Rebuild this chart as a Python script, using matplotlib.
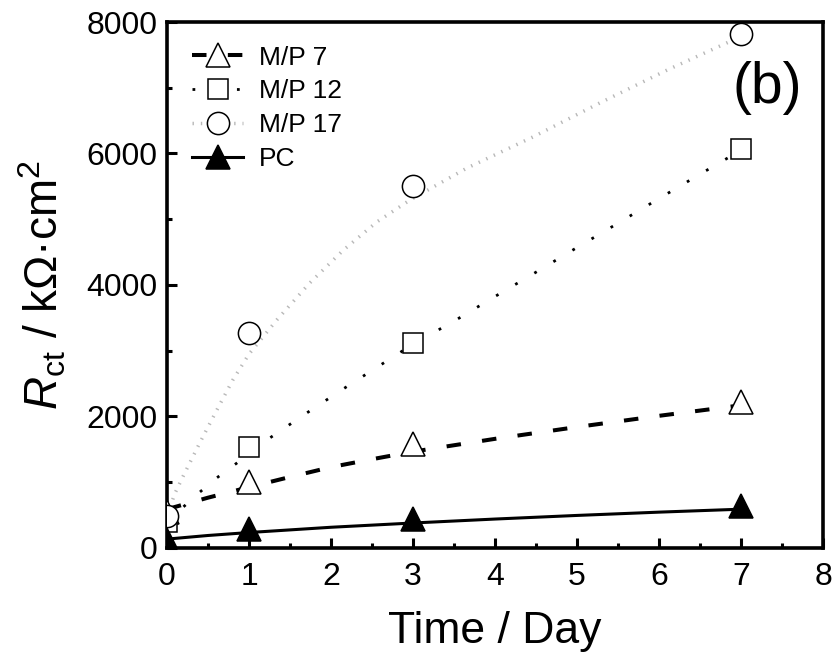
import matplotlib
matplotlib.use("Agg")
import matplotlib.pyplot as plt
from matplotlib.ticker import MultipleLocator

plt.rcParams['font.family'] = ['Liberation Sans', 'DejaVu Sans']
plt.rcParams['mathtext.fontset'] = 'custom'
plt.rcParams['mathtext.rm'] = 'Liberation Sans'
plt.rcParams['mathtext.it'] = 'Liberation Sans:italic'

# === Datos medidos (Rct, kOhm cm2) ===
dias = [0, 1, 3, 7]
mp7 = [550, 1000, 1580, 2220]
mp12 = [400, 1540, 3125, 6070]
mp17 = [490, 3270, 5505, 7815]
pc = [120, 290, 440, 635]

# === Curvas de ajuste ===
x_fit7 = [0, 0.5, 1, 1.5, 2, 2.5, 3, 4, 5, 6, 7]
y_fit7 = [590, 765, 925, 1080, 1230, 1350, 1465, 1660, 1840, 2010, 2170]

x_fit12 = [0, 0.1, 0.2, 0.4, 0.6, 0.85, 1.25, 1.7, 2.15, 2.6, 3.0, 3.5, 4, 4.5, 5, 5.5, 6, 6.5, 7]
y_fit12 = [400, 510, 625, 850, 1060, 1290, 1670, 2050, 2420, 2780, 3100, 3450, 3825, 4195, 4570, 4940, 5315, 5685, 6050]

x_fit17 = [0, 0.1, 0.2, 0.4, 0.6, 0.8, 1, 1.34, 1.74, 2.15, 2.56, 2.96, 3.66, 4.46, 5.28, 6.1, 7]
y_fit17 = [500, 840, 1100, 1600, 2080, 2550, 2950, 3470, 4030, 4530, 4960, 5290, 5780, 6250, 6770, 7270, 7780]

x_fitpc = [0, 0.5, 1, 2, 3, 4, 5, 6, 7]
y_fitpc = [135, 190, 235, 315, 380, 440, 495, 545, 590]

# === Grafica ===
fig = plt.figure(figsize=(8.33, 6.55), dpi=100)
ax = fig.add_axes([0.2005, 0.1634, 0.7875, 0.803])

ax.plot(x_fit7, y_fit7, color='black', lw=2.9, dashes=(3.6, 5.3), zorder=2)
ax.plot(x_fit12, y_fit12, color='black', lw=2.0, dashes=(1, 7), zorder=2)
ax.plot(x_fit17, y_fit17, color='#b8b8b8', lw=2.5, dashes=(0.4, 2.0), zorder=2)
ax.plot(x_fitpc, y_fitpc, color='black', lw=2.2, zorder=2)

ax.plot(dias, mp7, ls='none', marker='^', ms=17, mfc='white', mec='black', mew=1.1, zorder=3)
ax.plot(dias, mp12, ls='none', marker='s', ms=14.5, mfc='white', mec='black', mew=1.1, zorder=3)
ax.plot(dias, mp17, ls='none', marker='o', ms=16, mfc='white', mec='black', mew=1.1, zorder=3)
ax.plot(dias, pc, ls='none', marker='^', ms=17, mfc='black', mec='black', mew=1.1, zorder=4)

# entradas de leyenda (linea + marcador)
h7, = ax.plot([], [], color='black', lw=2.9, dashes=(3.6, 5.3), marker='^', ms=17, mfc='white', mec='black', mew=1.1)
h12, = ax.plot([], [], color='black', lw=2.0, dashes=(1, 7), marker='s', ms=14.5, mfc='white', mec='black', mew=1.1)
h17, = ax.plot([], [], color='#b8b8b8', lw=2.5, dashes=(0.4, 2.0), marker='o', ms=16, mfc='white', mec='black', mew=1.1)
hpc, = ax.plot([], [], color='black', lw=2.2, marker='^', ms=17, mfc='black', mec='black', mew=1.1)
ax.legend([h7, h12, h17, hpc], ['M/P 7', 'M/P 12', 'M/P 17', 'PC'],
          loc='upper left', bbox_to_anchor=(0.038, 0.955), borderaxespad=0, borderpad=0,
          frameon=False, fontsize=19, handlelength=1.95, handletextpad=0.6,
          labelspacing=0.37, numpoints=1)

ax.text(0.915, 0.875, '(b)', transform=ax.transAxes, fontsize=41, ha='center', va='center')

ax.set_xlim(0, 8)
ax.set_ylim(0, 8000)
ax.xaxis.set_major_locator(MultipleLocator(1))
ax.xaxis.set_minor_locator(MultipleLocator(0.5))
ax.yaxis.set_major_locator(MultipleLocator(2000))
ax.yaxis.set_minor_locator(MultipleLocator(1000))
ax.tick_params(which='both', direction='in', top=False, right=False, width=2.2)
ax.tick_params(which='major', length=7.5, labelsize=23, pad=7)
ax.tick_params(axis='x', which='major', pad=10)
ax.tick_params(which='minor', length=3.8)
for s in ax.spines.values():
    s.set_linewidth(2.6)

ax.set_xlabel('Time / Day', fontsize=32, labelpad=14)
ax.set_ylabel(r'$\mathit{R}_{\mathrm{ct}}$ / kΩ·cm$^{2}$', fontsize=33, labelpad=13)

fig.savefig('out.png', dpi=100)
